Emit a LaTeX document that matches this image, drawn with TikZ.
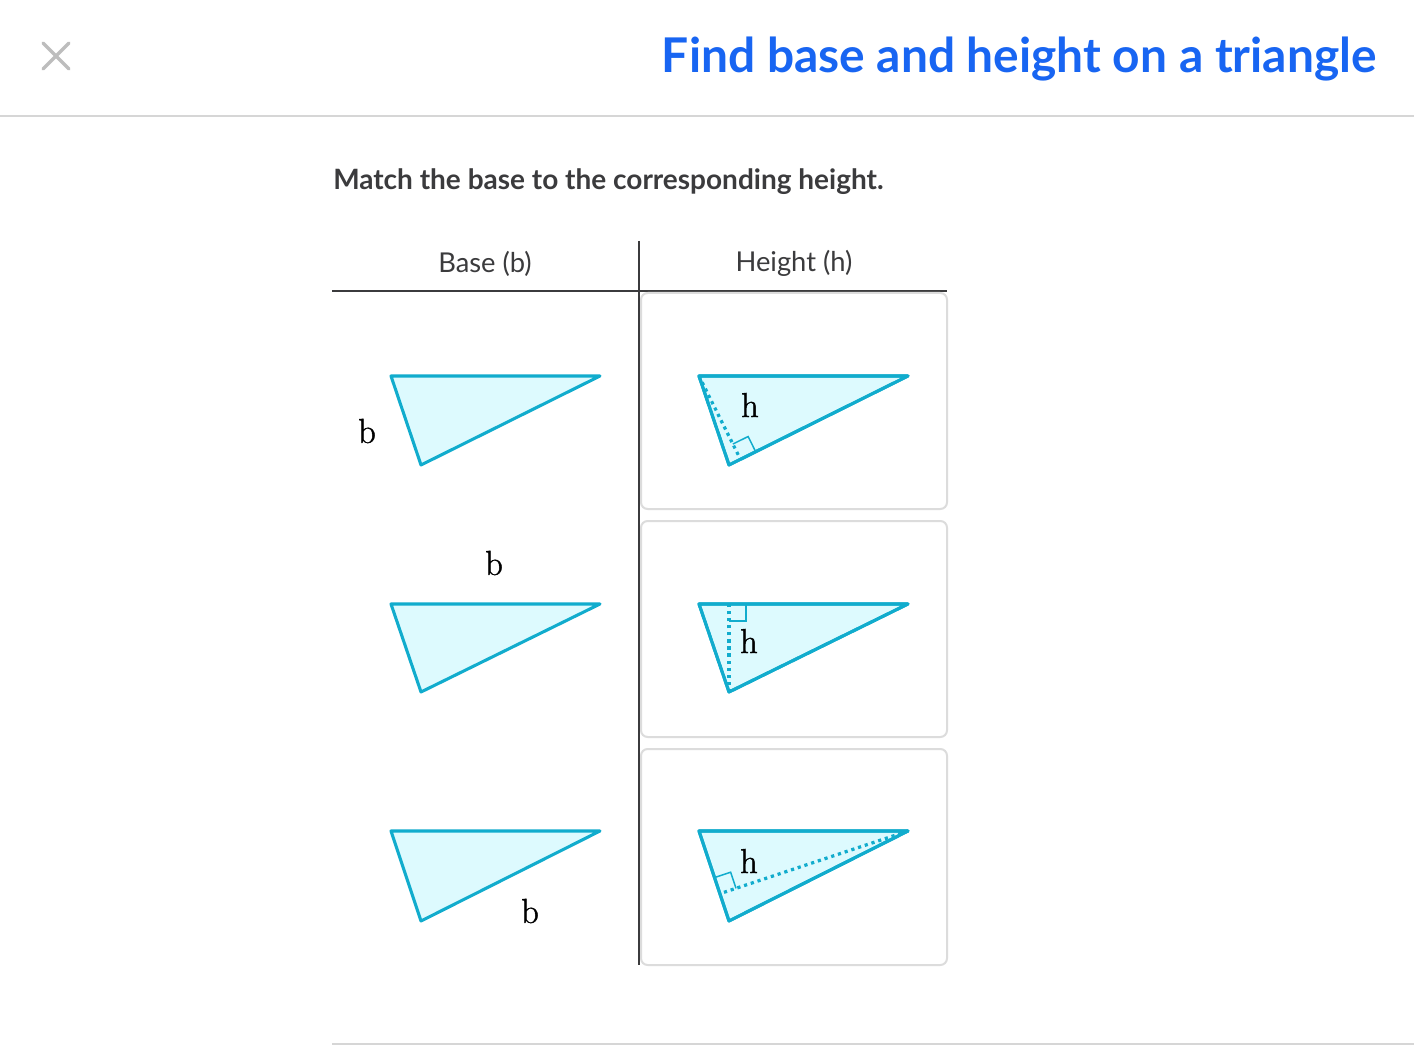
\documentclass[tikz,border=0pt]{standalone}
\usepackage{fontspec}
\newfontfamily\lato{Lato}
\newfontfamily\lmlabel[FakeBold=1.2]{Latin Modern Roman}
\usetikzlibrary{calc}
\definecolor{titleblue}{HTML}{1865F2}
\definecolor{textdark}{HTML}{3B3B3D}
\definecolor{rulegray}{HTML}{D6D6D6}
\definecolor{closegray}{HTML}{BDBDBD}
\definecolor{boxgray}{HTML}{DCDCDC}
\definecolor{tristroke}{HTML}{11ACCD}
\definecolor{trifill}{HTML}{DDFAFE}
\begin{document}
\begin{tikzpicture}[x=0.75pt,y=-0.75pt,
  tri/.style={draw=tristroke,fill=trifill,line width=2.3pt,line join=round},
  alt/.style={draw=tristroke,line width=2.4pt,dash pattern=on 2.4pt off 2.9pt},
  rmark/.style={draw=tristroke,line width=1.1pt},
  lbl/.style={font=\lmlabel\fontsize{26}{26}\selectfont,inner sep=0pt,text=black},
  hdr/.style={font=\lato\fontsize{20.5}{24}\selectfont,text=textdark,inner sep=0pt},
  card/.style={draw=boxgray,line width=1.5pt,rounded corners=5pt}]
% canvas
\path[fill=white,use as bounding box] (0,0) rectangle (1414,1048);
% close icon
\coordinate (x1) at (43,43); \coordinate (x2) at (69,69);
\coordinate (x3) at (69,43); \coordinate (x4) at (43,69);
\draw[closegray,line width=2.4pt,line cap=round] (x1) -- (x2) (x3) -- (x4);
% title
\node[font=\lato\bfseries\fontsize{35.9}{40}\selectfont,text=titleblue,anchor=base east,inner sep=0pt] (title) at (1377,73) {Find base and height on a triangle};
% header rule
\coordinate (hr1) at (0,116.5); \coordinate (hr2) at (1414,116.5);
\draw[rulegray,line width=1.5pt] (hr1) -- (hr2);
% instruction
\node[font=\lato\bfseries\fontsize{21}{24}\selectfont,text=textdark,anchor=base west,inner sep=0pt] (instr) at (333,190) {Match the base to the corresponding height.};
% table header
\node[hdr] (hb) at (485,263.5) {Base (b)};
\node[hdr] (hh) at (794,263.5) {Height (h)};
\coordinate (t1) at (332,291); \coordinate (t2) at (947,291);
\draw[textdark,line width=1.5pt] (t1) -- (t2);
\coordinate (v1) at (639,241); \coordinate (v2) at (639,965);
\draw[textdark,line width=1.5pt] (v1) -- (v2);
% cards
\draw[card] (641,293) rectangle (947,509);
\draw[card] (641,521) rectangle (947,737);
\draw[card] (641,749) rectangle (947,965);
% bottom rule
\coordinate (br1) at (332,1043.5); \coordinate (br2) at (1414,1043.5);
\draw[rulegray,line width=1.5pt] (br1) -- (br2);

% ---------- base column ----------
\coordinate (A1) at (391,376); \coordinate (B1) at (600,376); \coordinate (C1) at (421,465);
\draw[tri] (A1) -- (B1) -- (C1) -- cycle;
\node[lbl] (b1) at (367,431) {b};
\coordinate (A2) at (391,604); \coordinate (B2) at (600,604); \coordinate (C2) at (421,692);
\draw[tri] (A2) -- (B2) -- (C2) -- cycle;
\node[lbl] (b2) at (494,563) {b};
\coordinate (A3) at (391,831); \coordinate (B3) at (600,831); \coordinate (C3) at (421,921);
\draw[tri] (A3) -- (B3) -- (C3) -- cycle;
\node[lbl] (b3) at (530,911) {b};

% ---------- height column ----------
% row 1: altitude from P1 to Q1R1
\coordinate (P1) at (699,376); \coordinate (Q1) at (908,376); \coordinate (R1) at (729,465);
\draw[tri] (P1) -- (Q1) -- (R1) -- cycle;
\coordinate (F1) at ($(Q1)!(P1)!(R1)$);
\coordinate (F1a) at ($(F1)!12.75pt!(Q1)$);
\coordinate (F1b) at ($(F1)!12.75pt!(P1)$);
\draw[rmark] (F1a) -- ($(F1a)+(F1b)-(F1)$) -- (F1b);
\draw[alt] (P1) -- (F1);
\draw[tri,fill=none] (P1) -- (Q1) -- (R1) -- cycle;
\node[lbl] (h1) at (750,405) {h};
% row 2: altitude from R2 to P2Q2
\coordinate (P2) at (699,604); \coordinate (Q2) at (908,604); \coordinate (R2) at (729,692);
\draw[tri] (P2) -- (Q2) -- (R2) -- cycle;
\coordinate (F2) at ($(P2)!(R2)!(Q2)$);
\coordinate (F2a) at ($(F2)!12.75pt!(Q2)$);
\coordinate (F2b) at ($(F2)!12.75pt!(R2)$);
\draw[rmark] (F2a) -- ($(F2a)+(F2b)-(F2)$) -- (F2b);
\draw[alt] (R2) -- (F2);
\draw[tri,fill=none] (P2) -- (Q2) -- (R2) -- cycle;
\node[lbl] (h2) at (749,641) {h};
% row 3: altitude from Q3 to P3R3
\coordinate (P3) at (699,831); \coordinate (Q3) at (908,831); \coordinate (R3) at (729,921);
\draw[tri] (P3) -- (Q3) -- (R3) -- cycle;
\coordinate (F3) at ($(P3)!(Q3)!(R3)$);
\coordinate (F3a) at ($(F3)!12.75pt!(P3)$);
\coordinate (F3b) at ($(F3)!12.75pt!(Q3)$);
\draw[rmark] (F3a) -- ($(F3a)+(F3b)-(F3)$) -- (F3b);
\draw[alt] (Q3) -- (F3);
\draw[tri,fill=none] (P3) -- (Q3) -- (R3) -- cycle;
\node[lbl] (h3) at (749,861) {h};
\end{tikzpicture}
\end{document}
